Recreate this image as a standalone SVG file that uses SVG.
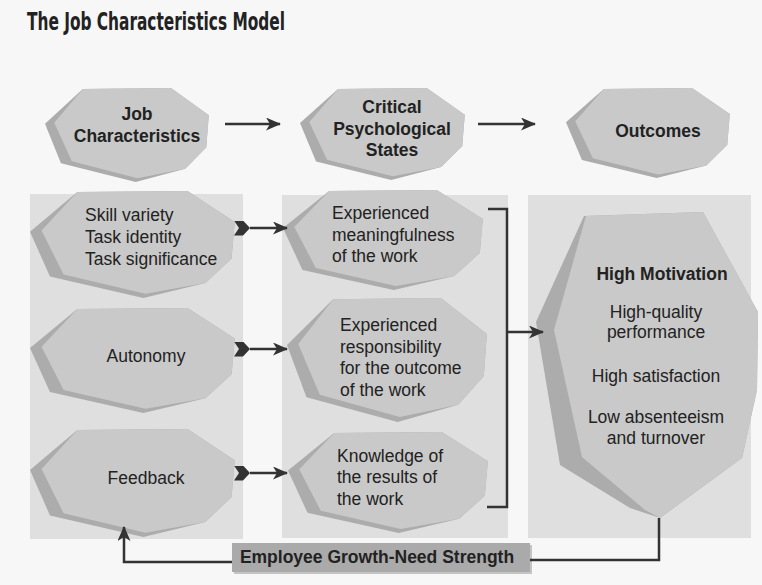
<svg xmlns="http://www.w3.org/2000/svg" xmlns:xlink="http://www.w3.org/1999/xlink" width="762" height="585" viewBox="0 0 762 585">
<style>
.bg{fill:#f7f7f7}
.panel{fill:#dfdfdf}
.bevel{fill:#acacac}
.face{fill:#c9c9c9}
.t{font-family:"Liberation Sans",Arial,sans-serif;font-size:17.5px;fill:#222}
.b{font-weight:bold}
.m{text-anchor:middle}
.ln{fill:none;stroke:#333;stroke-width:2.5}
.ah{fill:#333}
</style>
<defs>
<g id="hex">
<polygon class="bevel" points="45,1 150,0 195,29 192,63 167,86 108,100 19,80 0,38"/>
<polygon class="face" points="45,1 150,0 195,29 192,63 167,86 110,96 32,78 11,37"/>
</g>
<marker id="arr" markerUnits="userSpaceOnUse" markerWidth="15" markerHeight="13" refX="14" refY="6.5" orient="auto">
<path class="ah" d="M0,0 L15,6.5 L0,13 L4,6.5 Z"/>
</marker>
<marker id="tail" markerUnits="userSpaceOnUse" markerWidth="18" markerHeight="16" refX="16" refY="7.5" orient="auto">
<path class="ah" d="M0,0 L9,0 L16,7.5 L9,15 L0,15 L5,7.5 Z"/>
</marker>
</defs>
<rect class="bg" x="0" y="0" width="762" height="585"/>
<text class="t b" x="27" y="30" style="font-size:24px;font-family:'Liberation Sans Narrow','DejaVu Sans Condensed','Liberation Sans',sans-serif" textLength="258" lengthAdjust="spacingAndGlyphs">The Job Characteristics Model</text>
<g id="panels">
<rect class="panel" x="30" y="194" width="213" height="345"/>
<rect class="panel" x="282" y="195" width="226" height="343"/>
<rect class="panel" x="528" y="195" width="223" height="343"/>
</g>
<g id="h-job">
<use xlink:href="#hex" href="#hex" transform="translate(45,88) scale(0.84,0.94)"/>
<text class="t b m" x="137" y="120">Job</text>
<text class="t b m" x="137" y="142">Characteristics</text>
</g>
<g id="h-critical">
<use xlink:href="#hex" href="#hex" transform="translate(300,88) scale(0.845,0.92)"/>
<text class="t b m" x="392" y="113">Critical</text>
<text class="t b m" x="392" y="135">Psychological</text>
<text class="t b m" x="392" y="156">States</text>
</g>
<g id="h-outcomes">
<use xlink:href="#hex" href="#hex" transform="translate(566,88) scale(0.84,0.9)"/>
<text class="t b m" x="658" y="137">Outcomes</text>
</g>
<g id="n-skill">
<use xlink:href="#hex" href="#hex" transform="translate(30,191) scale(1.05,1.07)"/>
<text class="t" x="85" y="221">Skill variety</text>
<text class="t" x="85" y="243">Task identity</text>
<text class="t" x="85" y="265">Task significance</text>
</g>
<g id="n-autonomy">
<use xlink:href="#hex" href="#hex" transform="translate(30,308) scale(1.05,1.05)"/>
<text class="t m" x="146" y="362">Autonomy</text>
</g>
<g id="n-feedback">
<use xlink:href="#hex" href="#hex" transform="translate(30,429) scale(1.05,1.08)"/>
<text class="t m" x="146" y="484">Feedback</text>
</g>
<g id="n-meaning">
<use xlink:href="#hex" href="#hex" transform="translate(283,190) scale(1.025,1.0)"/>
<text class="t" x="332" y="219">Experienced</text>
<text class="t" x="332" y="241">meaningfulness</text>
<text class="t" x="332" y="262">of the work</text>
</g>
<g id="n-respons">
<use xlink:href="#hex" href="#hex" transform="translate(287,298) scale(1.025,1.24)"/>
<text class="t" x="340" y="331">Experienced</text>
<text class="t" x="340" y="353">responsibility</text>
<text class="t" x="340" y="374">for the outcome</text>
<text class="t" x="340" y="396">of the work</text>
</g>
<g id="n-knowledge">
<use xlink:href="#hex" href="#hex" transform="translate(288,432) scale(1.025,1.01)"/>
<text class="t" x="337" y="462">Knowledge of</text>
<text class="t" x="337" y="483">the results of</text>
<text class="t" x="337" y="505">the work</text>
</g>
<g id="n-motivation">
<polygon class="bevel" points="584,216 703,212 758,312 757,390 742,458 660,518 630,508 560,465 536,322"/>
<polygon class="face" points="586,216 703,212 758,312 757,390 742,458 660,518 645,510 582,457 554,330"/>
<text class="t b m" x="662" y="280">High Motivation</text>
<text class="t m" x="656" y="318">High-quality</text>
<text class="t m" x="656" y="338">performance</text>
<text class="t m" x="656" y="382">High satisfaction</text>
<text class="t m" x="656" y="423">Low absenteeism</text>
<text class="t m" x="656" y="444">and turnover</text>
</g>
<g id="n-growth">
<rect x="234" y="545" width="298" height="29" fill="#c4c4c4"/>
<rect x="232" y="543" width="298" height="29" fill="#aaaaaa"/>
<text class="t b m" x="377" y="563">Employee Growth-Need Strength</text>
</g>
<g id="connectors">
<path class="ln" d="M225,124 H280" marker-end="url(#arr)"/>
<path class="ln" d="M478,124 H535" marker-end="url(#arr)"/>
<path class="ln" d="M250,228 H287" marker-start="url(#tail)" marker-end="url(#arr)"/>
<path class="ln" d="M250,349 H287" marker-start="url(#tail)" marker-end="url(#arr)"/>
<path class="ln" d="M250,473 H287" marker-start="url(#tail)" marker-end="url(#arr)"/>
<path class="ln" d="M488,209 H507 V507 H487"/>
<path class="ln" d="M507,332 H543" marker-end="url(#arr)"/>
<path class="ln" d="M530,560 H659 V518"/>
<path class="ln" d="M232,562 H124 V527" marker-end="url(#arr)"/>
</g>
</svg>
